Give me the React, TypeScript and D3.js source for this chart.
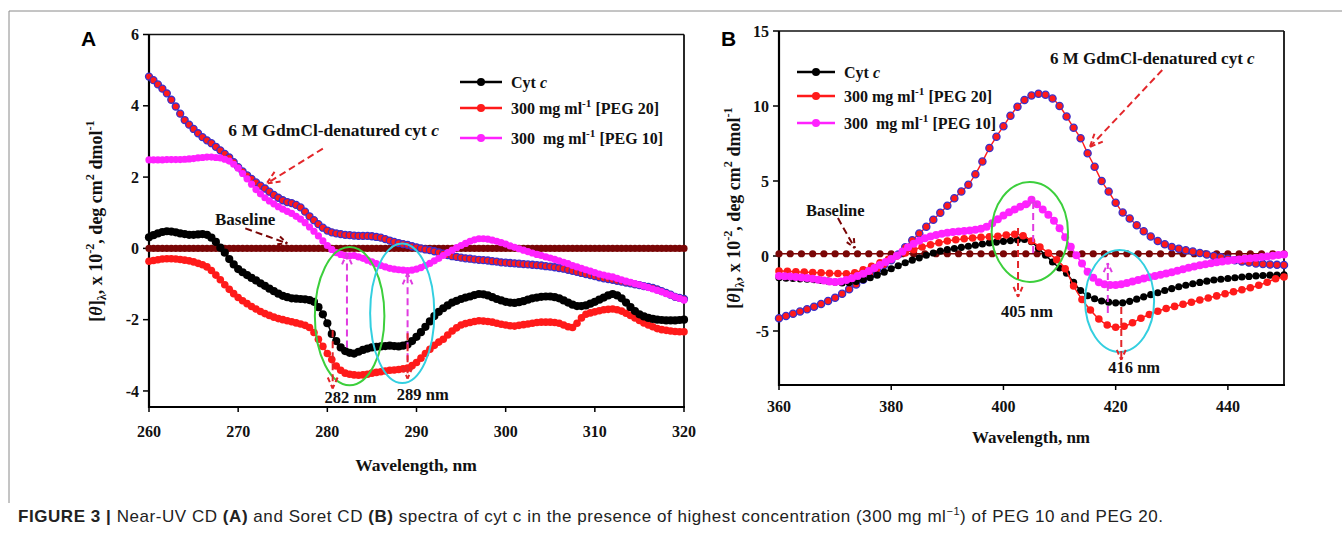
import React from 'react';
import * as d3 from 'd3';

// ---------- Panel A: near-UV CD, 260–320 nm, 0.5 nm sampling ----------
const gridA = d3.range(121).map((i) => 260 + i * 0.5);

const cytcA = [
  0.31, 0.37, 0.42, 0.46, 0.48, 0.47, 0.45, 0.42, 0.40, 0.38,
  0.38, 0.39, 0.40, 0.38, 0.30, 0.18, 0.02, -0.12, -0.30, -0.45,
  -0.58, -0.67, -0.75, -0.83, -0.90, -0.98, -1.05, -1.13, -1.20, -1.27,
  -1.33, -1.37, -1.40, -1.41, -1.42, -1.43, -1.45, -1.50, -1.65, -1.85,
  -2.10, -2.40, -2.60, -2.78, -2.88, -2.93, -2.95, -2.90, -2.85, -2.81,
  -2.78, -2.76, -2.75, -2.74, -2.73, -2.74, -2.75, -2.73, -2.70, -2.60,
  -2.48, -2.35, -2.20, -2.05, -1.90, -1.78, -1.68, -1.60, -1.52, -1.47,
  -1.42, -1.38, -1.35, -1.31, -1.28, -1.29, -1.32, -1.37, -1.42, -1.46,
  -1.50, -1.52, -1.53, -1.51, -1.48, -1.44, -1.40, -1.38, -1.36, -1.35,
  -1.35, -1.37, -1.40, -1.46, -1.52, -1.58, -1.62, -1.62, -1.60, -1.55,
  -1.50, -1.44, -1.38, -1.32, -1.28, -1.32, -1.40, -1.52, -1.65, -1.76,
  -1.85, -1.91, -1.95, -1.98, -2.00, -2.01, -2.02, -2.02, -2.02, -2.01,
  -2.00,
];

const peg20A = [
  -0.36, -0.34, -0.32, -0.30, -0.29, -0.29, -0.30, -0.31, -0.33, -0.35,
  -0.38, -0.42, -0.46, -0.52, -0.62, -0.75, -0.88, -1.02, -1.15, -1.27,
  -1.38, -1.47, -1.55, -1.63, -1.70, -1.77, -1.83, -1.88, -1.93, -1.97,
  -2.00, -2.03, -2.06, -2.09, -2.12, -2.16, -2.22, -2.36, -2.55, -2.75,
  -2.95, -3.12, -3.30, -3.42, -3.50, -3.53, -3.55, -3.56, -3.55, -3.53,
  -3.50, -3.48, -3.46, -3.44, -3.42, -3.41, -3.40, -3.38, -3.36, -3.29,
  -3.20, -3.08, -2.95, -2.83, -2.72, -2.63, -2.55, -2.43, -2.32, -2.23,
  -2.15, -2.11, -2.08, -2.05, -2.03, -2.04, -2.05, -2.07, -2.10, -2.13,
  -2.15, -2.17, -2.18, -2.16, -2.14, -2.12, -2.10, -2.08, -2.07, -2.07,
  -2.07, -2.08, -2.10, -2.15, -2.20, -2.22, -2.10, -1.95, -1.85, -1.81,
  -1.78, -1.75, -1.72, -1.71, -1.70, -1.72, -1.76, -1.82, -1.88, -1.95,
  -2.02, -2.09, -2.15, -2.20, -2.25, -2.28, -2.30, -2.32, -2.33, -2.34,
  -2.34,
];

const peg10A = [
  2.48, 2.48, 2.48, 2.48, 2.49, 2.49, 2.49, 2.49, 2.50, 2.51,
  2.52, 2.54, 2.55, 2.56, 2.56, 2.55, 2.54, 2.50, 2.45, 2.36,
  2.25, 2.10, 1.95, 1.80, 1.65, 1.53, 1.42, 1.33, 1.25, 1.17,
  1.10, 1.04, 0.98, 0.90, 0.82, 0.72, 0.60, 0.48, 0.35, 0.21,
  0.08, -0.03, -0.12, -0.17, -0.20, -0.21, -0.20, -0.24, -0.28, -0.33,
  -0.38, -0.43, -0.48, -0.52, -0.56, -0.58, -0.60, -0.61, -0.62, -0.61,
  -0.58, -0.54, -0.48, -0.42, -0.35, -0.28, -0.20, -0.12, -0.05, 0.02,
  0.08, 0.14, 0.20, 0.24, 0.27, 0.27, 0.26, 0.23, 0.20, 0.16,
  0.12, 0.07, 0.03, -0.01, -0.05, -0.09, -0.13, -0.17, -0.20, -0.24,
  -0.27, -0.31, -0.35, -0.39, -0.43, -0.48, -0.52, -0.56, -0.60, -0.64,
  -0.68, -0.72, -0.75, -0.78, -0.80, -0.84, -0.88, -0.92, -0.95, -0.99,
  -1.02, -1.06, -1.10, -1.14, -1.18, -1.22, -1.27, -1.31, -1.36, -1.40,
  -1.45,
];

const denaturedA = [
  4.82, 4.72, 4.60, 4.48, 4.35, 4.17, 3.98, 3.78, 3.60, 3.47,
  3.35, 3.23, 3.12, 3.03, 2.95, 2.85, 2.75, 2.65, 2.55, 2.42,
  2.28, 2.16, 2.05, 1.95, 1.85, 1.76, 1.68, 1.59, 1.50, 1.42,
  1.35, 1.30, 1.27, 1.22, 1.15, 1.03, 0.90, 0.79, 0.68, 0.58,
  0.50, 0.45, 0.42, 0.40, 0.38, 0.37, 0.36, 0.35, 0.35, 0.35,
  0.34, 0.32, 0.30, 0.26, 0.22, 0.18, 0.15, 0.12, 0.10, 0.06,
  0.03, 0.00, -0.03, -0.05, -0.08, -0.11, -0.15, -0.19, -0.22, -0.24,
  -0.26, -0.28, -0.29, -0.31, -0.32, -0.33, -0.34, -0.36, -0.37, -0.39,
  -0.40, -0.41, -0.42, -0.43, -0.44, -0.45, -0.46, -0.47, -0.48, -0.50,
  -0.51, -0.53, -0.55, -0.57, -0.60, -0.63, -0.66, -0.69, -0.72, -0.75,
  -0.78, -0.81, -0.84, -0.86, -0.88, -0.91, -0.93, -0.96, -0.98, -1.01,
  -1.03, -1.06, -1.08, -1.11, -1.15, -1.20, -1.25, -1.30, -1.36, -1.39,
  -1.42,
];

const baselineA = [
  0, 0, 0, 0, 0, 0, 0, 0, 0, 0,
  0, 0, 0, 0, 0, 0, 0, 0, 0, 0,
  0, 0, 0, 0, 0, 0, 0, 0, 0, 0,
  0, 0, 0, 0, 0, 0, 0, 0, 0, 0,
  0, 0, 0, 0, 0, 0, 0, 0, 0, 0,
  0, 0, 0, 0, 0, 0, 0, 0, 0, 0,
  0, 0, 0, 0, 0, 0, 0, 0, 0, 0,
  0, 0, 0, 0, 0, 0, 0, 0, 0, 0,
  0, 0, 0, 0, 0, 0, 0, 0, 0, 0,
  0, 0, 0, 0, 0, 0, 0, 0, 0, 0,
  0, 0, 0, 0, 0, 0, 0, 0, 0, 0,
  0, 0, 0, 0, 0, 0, 0, 0, 0, 0,
  0,
];

const xTicksA = [260, 270, 280, 290, 300, 310, 320];
const yTicksA = [-4, -2, 0, 2, 4, 6];

// ---------- Panel B: Soret CD, 360–450 nm ----------
const grid125 = d3.range(73).map((i) => 360 + i * 1.25);
const grid150 = d3.range(61).map((i) => 360 + i * 1.5);
const grid100 = d3.range(91).map((i) => 360 + i);
const grid200 = d3.range(46).map((i) => 360 + i * 2);

const cytcB = [
  -1.45, -1.48, -1.50, -1.52, -1.55, -1.58, -1.62, -1.68,
  -1.74, -1.80, -1.78, -1.70, -1.58, -1.45, -1.28, -1.08,
  -0.85, -0.65, -0.45, -0.28, -0.12, 0.05, 0.20, 0.32,
  0.42, 0.50, 0.58, 0.65, 0.72, 0.80, 0.87, 0.93,
  0.98, 1.03, 1.08, 1.10, 0.95, 0.50, 0.05, -0.40,
  -0.80, -1.15, -1.75, -2.30, -2.65, -2.85, -3.00, -3.08,
  -3.12, -3.12, -3.02, -2.88, -2.72, -2.58, -2.45, -2.30,
  -2.17, -2.05, -1.95, -1.85, -1.76, -1.68, -1.60, -1.55,
  -1.50, -1.45, -1.40, -1.36, -1.33, -1.30, -1.28, -1.27,
  -1.26,
];

const denaturedB = [
  -4.15, -4.00, -3.85, -3.70, -3.55, -3.38, -3.20, -3.00,
  -2.78, -2.52, -2.22, -1.90, -1.58, -1.25, -0.92, -0.60,
  -0.28, 0.10, 0.58, 1.05, 1.50, 1.95, 2.42, 2.88,
  3.35, 3.85, 4.30, 4.75, 5.45, 6.30, 7.20, 7.95,
  8.65, 9.35, 9.95, 10.40, 10.70, 10.82, 10.75, 10.50,
  10.00, 9.30, 8.55, 7.85, 6.85, 5.95, 5.00, 4.30,
  3.55, 2.90, 2.50, 2.05, 1.65, 1.30, 1.00, 0.78,
  0.60, 0.48, 0.38, 0.30, 0.20, 0.10, 0.00, -0.08,
  -0.18, -0.28, -0.36, -0.44, -0.50, -0.54, -0.57, -0.59,
  -0.60,
];

const peg20B = [
  -1.00, -1.02, -1.05, -1.07, -1.10, -1.12, -1.15, -1.17, -1.18, -1.12,
  -0.92, -0.68, -0.45, -0.22, 0.00, 0.20, 0.42, 0.60, 0.75, 0.88,
  1.00, 1.08, 1.15, 1.20, 1.25, 1.28, 1.32, 1.40, 1.45, 1.35,
  1.00, 0.60, 0.20, -0.25, -0.85, -2.00, -2.90, -3.60, -4.20, -4.60,
  -4.75, -4.68, -4.45, -4.15, -3.90, -3.68, -3.50, -3.36, -3.22, -3.08,
  -2.93, -2.80, -2.66, -2.52, -2.38, -2.25, -2.12, -1.95, -1.75, -1.52,
  -1.40,
];

const peg10B = [
  -1.33, -1.35, -1.37, -1.40, -1.43, -1.47, -1.52, -1.58, -1.64, -1.70,
  -1.73, -1.70, -1.60, -1.48, -1.33, -1.18, -1.00, -0.80, -0.60, -0.40,
  -0.20, 0.02, 0.30, 0.58, 0.82, 1.02, 1.18, 1.30, 1.40, 1.48,
  1.55, 1.60, 1.63, 1.66, 1.70, 1.75, 1.82, 1.95, 2.18, 2.45,
  2.70, 2.92, 3.10, 3.28, 3.45, 3.75, 3.45, 3.10, 2.75, 2.35,
  1.85, 1.25, 0.62, 0.05, -0.50, -1.05, -1.45, -1.75, -1.88, -1.93,
  -1.93, -1.88, -1.80, -1.70, -1.60, -1.50, -1.42, -1.33, -1.25, -1.17,
  -1.08, -0.98, -0.88, -0.78, -0.70, -0.62, -0.55, -0.48, -0.42, -0.36,
  -0.32, -0.27, -0.23, -0.19, -0.15, -0.11, -0.07, -0.03, 0.02, 0.06,
  0.10,
];

const baselineB = [
  0.15, 0.15, 0.15, 0.15, 0.15, 0.15, 0.15, 0.15, 0.15, 0.15,
  0.15, 0.15, 0.15, 0.15, 0.15, 0.15, 0.15, 0.15, 0.15, 0.15,
  0.15, 0.15, 0.15, 0.15, 0.15, 0.15, 0.15, 0.15, 0.15, 0.15,
  0.15, 0.15, 0.15, 0.15, 0.15, 0.15, 0.15, 0.15, 0.15, 0.15,
  0.15, 0.15, 0.15, 0.15, 0.15, 0.15,
];

const xTicksB = [360, 380, 400, 420, 440];
const yTicksB = [-5, 0, 5, 10, 15];

// ---------- colours & fonts ----------
const BLACK = '#000000';
const RED = '#ff1a1a';
const MAGENTA = '#ff22ff';
const MAROON = '#7a0606';
const BLUE_RING = '#3b2fc9';
const ARROW_RED = '#e3262a';
const ARROW_MAG = '#e03ce0';
const GREEN = '#3ccf3c';
const CYAN = '#33cfe0';
const SERIF = '"Liberation Serif", "Times New Roman", serif';
const SANS = '"Liberation Sans", Arial, sans-serif';

type Scale = d3.ScaleLinear<number, number>;

function Series(props: {
  xs: number[];
  ys: number[];
  x: Scale;
  y: Scale;
  fill: string;
  r: number;
  ring?: string;
  lineColor?: string;
  lineWidth?: number;
}) {
  const { xs, ys, x, y, fill, r, ring, lineColor, lineWidth } = props;
  const pts: [number, number][] = xs.map((w, i) => [w, ys[i]]);
  const line = d3
    .line<[number, number]>()
    .x((d) => x(d[0]))
    .y((d) => y(d[1]))
    .curve(d3.curveMonotoneX);
  return (
    <g>
      <path d={line(pts) || ''} fill="none" stroke={lineColor || fill} strokeWidth={lineWidth ?? 1.5} />
      {pts.map((d, i) => (
        <circle
          key={i}
          cx={x(d[0])}
          cy={y(d[1])}
          r={r}
          fill={fill}
          stroke={ring || 'none'}
          strokeWidth={ring ? 1.3 : 0}
        />
      ))}
    </g>
  );
}

// dashed arrow with an open dashed head, end points given in data units
function DashArrow(props: {
  x: Scale;
  y: Scale;
  from: [number, number];
  to: [number, number];
  color: string;
  width?: number;
  head?: number;
}) {
  const { x, y, from, to, color } = props;
  const w = props.width ?? 2;
  const head = props.head ?? 12;
  const x1 = x(from[0]);
  const y1 = y(from[1]);
  const x2 = x(to[0]);
  const y2 = y(to[1]);
  const a = Math.atan2(y2 - y1, x2 - x1);
  const s = 0.42;
  const h1 = [x2 - head * Math.cos(a - s), y2 - head * Math.sin(a - s)];
  const h2 = [x2 - head * Math.cos(a + s), y2 - head * Math.sin(a + s)];
  return (
    <g stroke={color} strokeWidth={w} fill="none" strokeLinecap="butt">
      <line x1={x1} y1={y1} x2={x2} y2={y2} strokeDasharray="7 4" />
      <line x1={h1[0]} y1={h1[1]} x2={x2} y2={y2} strokeDasharray="5 3" />
      <line x1={h2[0]} y1={h2[1]} x2={x2} y2={y2} strokeDasharray="5 3" />
    </g>
  );
}

function DataEllipse(props: {
  x: Scale;
  y: Scale;
  c: [number, number];
  rw: number;
  rv: number;
  color: string;
}) {
  const { x, y, c, rw, rv, color } = props;
  const cx = x(c[0]);
  const cy = y(c[1]);
  return (
    <ellipse
      cx={cx}
      cy={cy}
      rx={Math.abs(x(c[0] + rw) - cx)}
      ry={Math.abs(y(c[1] + rv) - cy)}
      fill="none"
      stroke={color}
      strokeWidth={2}
    />
  );
}

function Frame(props: { x: Scale; y: Scale; xTicks: number[]; yTicks: number[]; fs: number; xLabelDy: number }) {
  const { x, y, xTicks, yTicks, fs, xLabelDy } = props;
  const [x0, x1] = x.range();
  const [yb, yt] = y.range();
  return (
    <g>
      <line x1={x0} y1={yt} x2={x1} y2={yt} stroke="#111" strokeWidth={1.5} />
      <line x1={x1} y1={yt} x2={x1} y2={yb} stroke="#111" strokeWidth={1.8} />
      <line x1={x0} y1={yb} x2={x1 + 1} y2={yb} stroke="#000" strokeWidth={2.2} />
      <line x1={x0} y1={yt} x2={x0} y2={yb + 1} stroke="#000" strokeWidth={2.2} />
      {xTicks.map((t) => (
        <g key={'x' + t}>
          <line x1={x(t)} y1={yb} x2={x(t)} y2={yb + 5} stroke="#000" strokeWidth={1.5} />
          <text
            x={x(t)}
            y={yb + xLabelDy}
            textAnchor="middle"
            fontFamily={SERIF}
            fontWeight="bold"
            fontSize={fs}
            fill="#111"
          >
            {t}
          </text>
        </g>
      ))}
      {yTicks.map((t) => (
        <g key={'y' + t}>
          <line x1={x0 - 6} y1={y(t)} x2={x0} y2={y(t)} stroke="#000" strokeWidth={1.5} />
          <text
            x={x0 - 10}
            y={y(t) + fs * 0.35}
            textAnchor="end"
            fontFamily={SERIF}
            fontWeight="bold"
            fontSize={fs}
            fill="#111"
          >
            {t}
          </text>
        </g>
      ))}
    </g>
  );
}

function YTitle(props: { cx: number; cy: number; fs: number }) {
  const { cx, cy, fs } = props;
  const sm = fs * 0.68;
  return (
    <text
      transform={`translate(${cx},${cy}) rotate(-90)`}
      textAnchor="middle"
      fontFamily={SERIF}
      fontWeight="bold"
      fontSize={fs}
      fill="#111"
    >
      [<tspan fontStyle="italic">θ</tspan>]
      <tspan fontSize={sm} dy={4}>λ</tspan>
      <tspan dy={-4}>, x 10</tspan>
      <tspan fontSize={sm} dy={-8}>-2</tspan>
      <tspan dy={8}>, deg cm</tspan>
      <tspan fontSize={sm} dy={-8}>2</tspan>
      <tspan dy={8}> dmol</tspan>
      <tspan fontSize={sm} dy={-8}>-1</tspan>
    </text>
  );
}

function Legend(props: { x: number; y: number; gap: number[]; len: number; fs: number }) {
  const { x, y, gap, len, fs } = props;
  const rows = [
    { color: BLACK, kind: 'cyt' },
    { color: RED, kind: '20' },
    { color: MAGENTA, kind: '10' },
  ];
  const sm = fs * 0.7;
  return (
    <g>
      {rows.map((r, i) => {
        const yy = y + gap[i];
        return (
          <g key={i}>
            <line x1={x} y1={yy} x2={x + len} y2={yy} stroke={r.color} strokeWidth={2.5} />
            <circle cx={x + len / 2} cy={yy} r={4} fill={r.color} />
            <text x={x + len + 9} y={yy + fs * 0.36} fontFamily={SERIF} fontWeight="bold" fontSize={fs} fill="#111">
              {r.kind === 'cyt' ? (
                <>
                  Cyt <tspan fontStyle="italic">c</tspan>
                </>
              ) : (
                <>
                  <tspan>{r.kind === '20' ? '300 mg ml' : '300\u00a0 mg ml'}</tspan>
                  <tspan fontSize={sm} dy={-7}>-1</tspan>
                  <tspan dy={7}>{r.kind === '20' ? ' [PEG 20]' : ' [PEG 10]'}</tspan>
                </>
              )}
            </text>
          </g>
        );
      })}
    </g>
  );
}

export default function App() {
  const xA = d3.scaleLinear().domain([260, 320]).range([149, 684]);
  const yA = d3.scaleLinear().domain([-4.45, 6]).range([407, 34.5]);
  const xB = d3.scaleLinear().domain([360, 450]).range([779, 1284]);
  const yB = d3.scaleLinear().domain([-8.6, 15]).range([385, 31]);

  const bold = { fontFamily: SERIF, fontWeight: 'bold' as const, fill: '#111' };

  return (
    <svg
      width={1342}
      height={535}
      viewBox="0 0 1342 535"
      style={{ position: 'absolute', left: 0, top: 0, background: '#fff' }}
    >
      <rect x={0} y={0} width={1342} height={535} fill="#fff" />
      {/* figure border */}
      <line x1={9} y1={11} x2={1342} y2={11} stroke="#8a8a8a" strokeWidth={1} />
      <line x1={9} y1={11} x2={9} y2={503} stroke="#8a8a8a" strokeWidth={1} />

      {/* ===== Panel A ===== */}
      <text x={81} y={46} fontFamily={SANS} fontWeight="bold" fontSize={21} fill="#000">A</text>
      <Frame x={xA} y={yA} xTicks={xTicksA} yTicks={yTicksA} fs={16} xLabelDy={30} />
      <YTitle cx={102} cy={221} fs={18} />
      <text x={416} y={471} textAnchor="middle" fontSize={17.5} {...bold}>Wavelength, nm</text>

      <Series xs={gridA} ys={baselineA} x={xA} y={yA} fill={MAROON} r={3.6} />
      <Series xs={gridA} ys={denaturedA} x={xA} y={yA} fill={RED} r={3.5} ring={BLUE_RING} lineColor={RED} lineWidth={1.2} />
      <Series xs={gridA} ys={peg20A} x={xA} y={yA} fill={RED} r={3.8} />
      <Series xs={gridA} ys={cytcA} x={xA} y={yA} fill={BLACK} r={4.1} />
      <Series xs={gridA} ys={peg10A} x={xA} y={yA} fill={MAGENTA} r={3.6} />

      <DataEllipse x={xA} y={yA} c={[282.5, -1.9]} rw={3.9} rv={1.94} color={GREEN} />
      <DataEllipse x={xA} y={yA} c={[288.4, -1.82]} rw={3.6} rv={1.96} color={CYAN} />

      <DashArrow x={xA} y={yA} from={[282.2, -2.78]} to={[282.2, -0.14]} color={ARROW_MAG} />
      <DashArrow x={xA} y={yA} from={[289.0, -3.14]} to={[289.0, -0.7]} color={ARROW_MAG} />
      <DashArrow x={xA} y={yA} from={[280.6, -2.3]} to={[280.6, -3.93]} color={ARROW_RED} />
      <DashArrow x={xA} y={yA} from={[289.0, -2.38]} to={[289.0, -3.65]} color={ARROW_RED} />
      <DashArrow x={xA} y={yA} from={[279.5, 2.8]} to={[273.2, 1.82]} color={ARROW_RED} head={14} />
      <DashArrow x={xA} y={yA} from={[270.8, 0.56]} to={[275.5, 0.14]} color={MAROON} head={10} />

      <text x={xA(282.6)} y={yA(-4.35)} textAnchor="middle" fontSize={16.5} {...bold}>282 nm</text>
      <text x={xA(290.7)} y={yA(-4.24)} textAnchor="middle" fontSize={16.5} {...bold}>289 nm</text>
      <text x={xA(267.4)} y={yA(0.65)} fontSize={17} {...bold}>Baseline</text>
      <text x={xA(268.9)} y={yA(3.14)} fontSize={17.5} {...bold}>
        6 M GdmCl-denatured cyt <tspan fontStyle="italic">c</tspan>
      </text>

      <Legend x={460} y={82} gap={[0, 26, 56]} len={42} fs={16} />

      {/* ===== Panel B ===== */}
      <text x={721} y={46} fontFamily={SANS} fontWeight="bold" fontSize={21} fill="#000">B</text>
      <Frame x={xB} y={yB} xTicks={xTicksB} yTicks={yTicksB} fs={16} xLabelDy={27} />
      <YTitle cx={740} cy={208} fs={18} />
      <text x={1031} y={443} textAnchor="middle" fontSize={17} {...bold}>Wavelength, nm</text>

      <Series xs={grid200} ys={baselineB} x={xB} y={yB} fill={MAROON} r={3.6} />
      <Series xs={grid125} ys={denaturedB} x={xB} y={yB} fill={RED} r={3.6} ring={BLUE_RING} lineColor={RED} lineWidth={1.4} />
      <Series xs={grid125} ys={cytcB} x={xB} y={yB} fill={BLACK} r={3.6} />
      <Series xs={grid150} ys={peg20B} x={xB} y={yB} fill={RED} r={3.8} />
      <Series xs={grid100} ys={peg10B} x={xB} y={yB} fill={MAGENTA} r={4} />

      <DataEllipse x={xB} y={yB} c={[404.7, 1.6]} rw={6.8} rv={3.33} color={GREEN} />
      <DataEllipse x={xB} y={yB} c={[420.7, -3.0]} rw={6.15} rv={3.4} color={CYAN} />

      <DashArrow x={xB} y={yB} from={[405.3, 0.2]} to={[405.3, 3.93]} color={ARROW_MAG} head={10} />
      <DashArrow x={xB} y={yB} from={[402.6, 1.87]} to={[402.6, -2.73]} color={ARROW_RED} head={11} />
      <DashArrow x={xB} y={yB} from={[418.6, -3.8]} to={[418.6, -0.47]} color={ARROW_MAG} head={10} />
      <DashArrow x={xB} y={yB} from={[421.0, -3.4]} to={[421.0, -6.93]} color={ARROW_RED} head={11} />
      <DashArrow x={xB} y={yB} from={[428.3, 12.4]} to={[415.4, 7.27]} color={ARROW_RED} head={14} />
      <DashArrow x={xB} y={yB} from={[370.5, 2.53]} to={[373.5, 0.53]} color={MAROON} head={10} />

      <text x={xB(404.2)} y={yB(-4.07)} textAnchor="middle" fontSize={16.5} {...bold}>405 nm</text>
      <text x={xB(423.3)} y={yB(-7.8)} textAnchor="middle" fontSize={16.5} {...bold}>416 nm</text>
      <text x={xB(364.8)} y={yB(2.67)} fontSize={16.5} {...bold}>Baseline</text>
      <text x={xB(408.3)} y={yB(12.8)} fontSize={17} {...bold}>
        6 M GdmCl-denatured cyt <tspan fontStyle="italic">c</tspan>
      </text>

      <Legend x={797} y={72} gap={[0, 24, 51]} len={38} fs={16} />

      {/* ===== caption ===== */}
      <text x={18} y={522} fontFamily={SANS} fontSize={17} letterSpacing={0.55} fill="#222">
        <tspan fontWeight="bold">FIGURE 3 |</tspan>
        <tspan> Near-UV CD </tspan>
        <tspan fontWeight="bold">(A)</tspan>
        <tspan> and Soret CD </tspan>
        <tspan fontWeight="bold">(B)</tspan>
        <tspan> spectra of cyt c in the presence of highest concentration (300 mg ml</tspan>
        <tspan fontSize={11} dy={-7}>−1</tspan>
        <tspan dy={7}>) of PEG 10 and PEG 20.</tspan>
      </text>
    </svg>
  );
}
